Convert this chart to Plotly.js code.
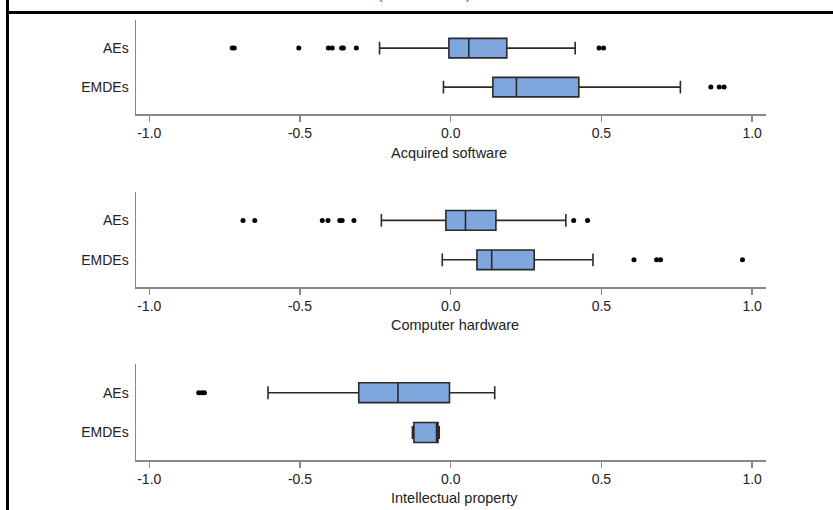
<!DOCTYPE html>
<html>
<head>
<meta charset="utf-8">
<script src="https://cdn.plot.ly/plotly-3.0.1.min.js"></script>
<style>html,body{margin:0;padding:0;background:#fff;}#chart{width:833px;height:510px;}</style>
</head>
<body>
<div id="chart"></div>
<script>
// Categories (bottom to top)
const categories = ['EMDEs', 'AEs'];
const panelTitles = ['Acquired software', 'Computer hardware', 'Intellectual property'];
const tickVals = [-1.0, -0.5, 0.0, 0.5, 1.0];
const tickText = ['-1.0', '-0.5', '0.0', '0.5', '1.0'];

// Box statistics: [lower whisker, Q1, median, Q3, upper whisker]
const softwareAEs = [-0.236, -0.006, 0.060, 0.186, 0.413];
const softwareEMDEs = [-0.024, 0.140, 0.218, 0.425, 0.762];
const softwareAEsOutliers = [-0.725, -0.718, -0.504, -0.406, -0.393, -0.362, -0.356, -0.313, 0.492, 0.507];
const softwareEMDEsOutliers = [0.863, 0.891, 0.907];

const hardwareAEs = [-0.230, -0.016, 0.049, 0.150, 0.382];
const hardwareEMDEs = [-0.028, 0.087, 0.136, 0.277, 0.472];
const hardwareAEsOutliers = [-0.689, -0.650, -0.426, -0.407, -0.368, -0.360, -0.321, 0.408, 0.454];
const hardwareEMDEsOutliers = [0.608, 0.683, 0.696, 0.968];

const ipAEs = [-0.606, -0.305, -0.175, -0.004, 0.146];
const ipEMDEs = [-0.127, -0.122, -0.047, -0.042, -0.038];
const ipAEsOutliers = [-0.836, -0.826, -0.817];
const ipEMDEsOutliers = [];

const panels = [
  {aes: softwareAEs, emdes: softwareEMDEs, aesOut: softwareAEsOutliers, emdesOut: softwareEMDEsOutliers},
  {aes: hardwareAEs, emdes: hardwareEMDEs, aesOut: hardwareAEsOutliers, emdesOut: hardwareEMDEsOutliers},
  {aes: ipAEs, emdes: ipEMDEs, aesOut: ipAEsOutliers, emdesOut: ipEMDEsOutliers}
];

const W = 833, H = 510, ML = 136, MR = 67;
const PW = W - ML - MR;
const px2x = p => (p - ML) / PW;
const py2y = p => 1 - p / H;

// pixel extents of each panel (top, bottom) and title y
const panelPix = [[20, 114, 153], [192, 287, 325], [364, 460, 498]];

const traces = [];
const layout = {
  width: W, height: H,
  margin: {l: ML, r: MR, t: 0, b: 0, pad: 0},
  paper_bgcolor: '#fff', plot_bgcolor: '#fff',
  showlegend: false,
  boxmode: 'overlay',
  font: {family: 'Liberation Sans, Arial, sans-serif', size: 14, color: '#222'},
  annotations: [],
  shapes: []
};

panels.forEach((p, i) => {
  const xa = i === 0 ? 'x' : 'x' + (i + 1);
  const ya = i === 0 ? 'y' : 'y' + (i + 1);
  traces.push({
    type: 'box', orientation: 'h',
    y: ['AEs', 'EMDEs'],
    lowerfence: [p.aes[0], p.emdes[0]],
    q1: [p.aes[1], p.emdes[1]],
    median: [p.aes[2], p.emdes[2]],
    q3: [p.aes[3], p.emdes[3]],
    upperfence: [p.aes[4], p.emdes[4]],
    boxpoints: false,
    fillcolor: 'rgb(128,166,222)',
    line: {color: '#2a2a2a', width: 1.6},
    whiskerwidth: 0.65,
    width: 0.5,
    xaxis: xa, yaxis: ya, hoverinfo: 'skip'
  });
  const ox = p.aesOut.concat(p.emdesOut);
  const oy = p.aesOut.map(() => 'AEs').concat(p.emdesOut.map(() => 'EMDEs'));
  traces.push({
    type: 'scatter', mode: 'markers', x: ox, y: oy,
    marker: {color: '#000', size: 5},
    xaxis: xa, yaxis: ya, hoverinfo: 'skip'
  });
  const [top, bot, ty] = panelPix[i];
  const xk = i === 0 ? 'xaxis' : 'xaxis' + (i + 1);
  const yk = i === 0 ? 'yaxis' : 'yaxis' + (i + 1);
  layout[xk] = {
    domain: [0, 1], anchor: ya,
    range: [-1.044, 1.046],
    tickvals: tickVals, ticktext: tickText,
    ticks: 'outside', ticklen: 6, tickcolor: '#888', tickwidth: 1.3,
    showline: true, linecolor: '#888', linewidth: 1.5,
    showgrid: false, zeroline: false,
    tickfont: {size: 14, color: '#222'},
    fixedrange: true
  };
  layout[yk] = {
    domain: [py2y(bot), py2y(top)], anchor: xa,
    type: 'category', categoryorder: 'array', categoryarray: categories,
    range: [-0.69, 1.72],
    showline: true, linecolor: '#888', linewidth: 1.5,
    showgrid: false, zeroline: false, ticks: '',
    ticklabelstandoff: 3,
    tickfont: {size: 14, color: '#222'},
    fixedrange: true
  };
  layout.annotations.push({
    text: panelTitles[i], xref: 'paper', yref: 'paper',
    x: px2x(389), y: py2y(ty), xanchor: 'left', yanchor: 'middle',
    showarrow: false, font: {size: 14.5, color: '#222'}
  });
});

// header text at top, cut off by the page edge as in the reference
layout.annotations.push({
  text: '(Correlation)', xref: 'paper', yref: 'paper',
  x: px2x(423.5), y: py2y(5), xanchor: 'center', yanchor: 'bottom',
  showarrow: false, font: {size: 17, color: 'rgb(30,140,220)'}
});

// frame lines
layout.shapes.push({type: 'line', xref: 'paper', yref: 'paper',
  x0: px2x(7.5), x1: px2x(7.5), y0: py2y(0), y1: py2y(H), line: {color: '#000', width: 3}});
layout.shapes.push({type: 'line', xref: 'paper', yref: 'paper',
  x0: px2x(6), x1: px2x(W + 2), y0: py2y(12.5), y1: py2y(12.5), line: {color: '#000', width: 3}});

Plotly.newPlot('chart', traces, layout, {staticPlot: true});
</script>
</body>
</html>
